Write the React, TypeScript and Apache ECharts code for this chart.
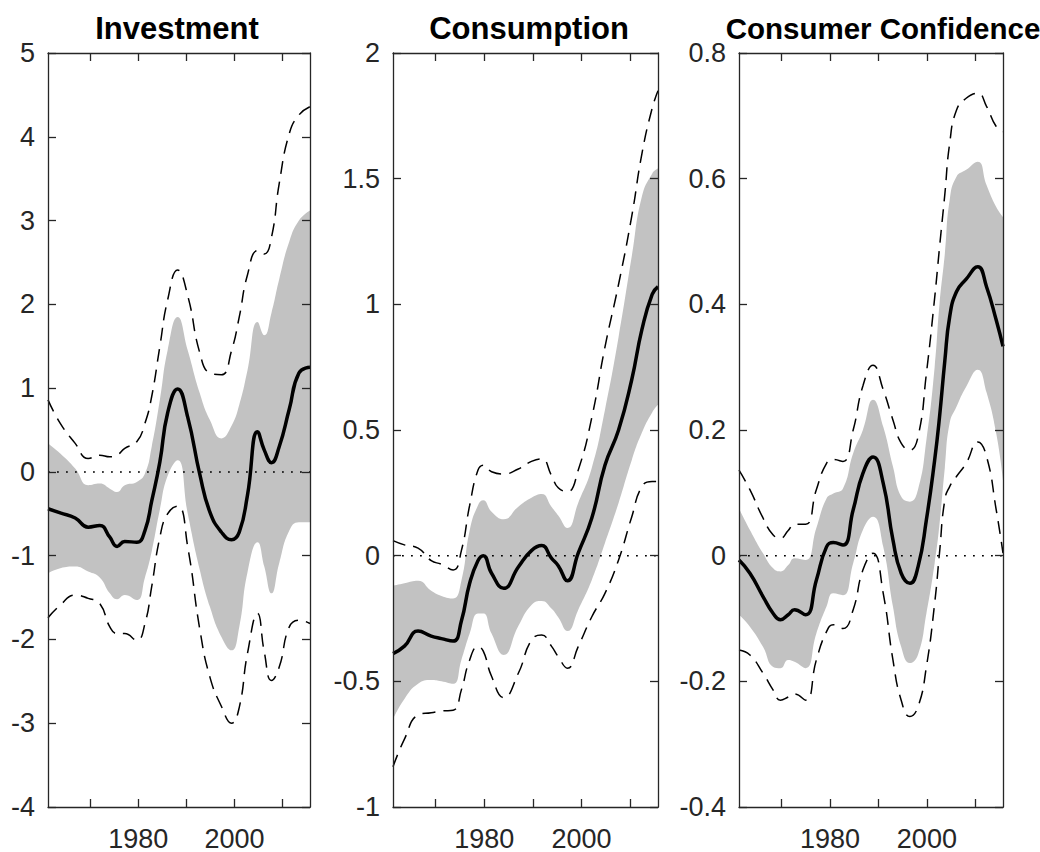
import { useEffect, useRef } from "react";
import * as echarts from "echarts";

// ---------- axes ----------
const X_MIN = 1961.25;
const X_MAX = 2015.7;
const X_TICKS = [1970, 1980, 1990, 2000, 2010];
const X_LABELS = [1980, 2000];

const TITLES = ["Investment", "Consumption", "Consumer Confidence"];
const Y_MIN = [-4, -1, -0.4];
const Y_MAX = [5, 2, 0.8];
const Y_STEP = [1, 0.5, 0.2];

// ---------- Investment ----------
const invYears = [1961.25, 1963.8, 1966.9, 1969.6, 1972.0, 1974.1, 1975.6, 1977.2, 1979.7, 1981.4, 1982.8, 1984.5, 1986.1, 1988.2, 1990.3, 1992.8, 1994.9, 1997.3, 1999.4, 2001.0, 2002.7, 2004.8, 2006.2, 2007.7, 2009.3, 2011.4, 2013.4, 2015.7];
const invMean = [-0.44, -0.49, -0.55, -0.66, -0.64, -0.78, -0.89, -0.83, -0.84, -0.70, -0.35, 0.12, 0.70, 0.99, 0.65, -0.03, -0.48, -0.72, -0.81, -0.72, -0.28, 0.48, 0.26, 0.11, 0.30, 0.75, 1.18, 1.25];
const invBandHi = [0.34, 0.22, 0.04, -0.16, -0.14, -0.20, -0.24, -0.16, -0.12, -0.02, 0.30, 0.86, 1.45, 1.85, 1.45, 0.94, 0.62, 0.40, 0.55, 0.80, 1.21, 1.79, 1.63, 1.90, 2.30, 2.75, 3.00, 3.12];
const invBandLo = [-1.21, -1.15, -1.13, -1.19, -1.26, -1.45, -1.52, -1.47, -1.53, -1.26, -0.95, -0.45, -0.05, 0.14, -0.50, -1.17, -1.61, -1.97, -2.13, -1.85, -1.20, -0.84, -1.13, -1.45, -1.09, -0.70, -0.60, -0.60];
const invDashHi = [0.86, 0.58, 0.34, 0.16, 0.20, 0.18, 0.20, 0.28, 0.36, 0.58, 0.90, 1.50, 2.05, 2.41, 2.10, 1.42, 1.18, 1.16, 1.45, 1.85, 2.35, 2.64, 2.60, 2.80, 3.44, 4.04, 4.26, 4.36];
const invDashLo = [-1.74, -1.59, -1.47, -1.51, -1.57, -1.85, -1.93, -1.93, -2.01, -1.81, -1.37, -0.78, -0.50, -0.41, -0.90, -1.88, -2.45, -2.80, -3.00, -2.81, -2.17, -1.69, -2.15, -2.49, -2.33, -1.85, -1.77, -1.81];

// ---------- Consumption ----------
const conYears = [1961.25, 1963.6, 1966.4, 1969.1, 1971.2, 1973.6, 1975.3, 1977.0, 1978.7, 1979.8, 1981.5, 1984.0, 1987.0, 1989.7, 1991.8, 1993.8, 1995.2, 1997.1, 1999.3, 2002.1, 2004.8, 2007.6, 2010.3, 2012.4, 2014.5, 2015.7];
const conMean = [-0.39, -0.36, -0.30, -0.32, -0.33, -0.34, -0.26, -0.11, -0.02, 0.0, -0.07, -0.13, -0.045, 0.02, 0.04, -0.01, -0.04, -0.10, 0.01, 0.15, 0.36, 0.50, 0.70, 0.90, 1.04, 1.07];
const conBandHi = [-0.12, -0.11, -0.10, -0.14, -0.16, -0.17, -0.10, 0.10, 0.20, 0.22, 0.175, 0.145, 0.195, 0.23, 0.245, 0.195, 0.16, 0.11, 0.21, 0.35, 0.58, 0.87, 1.19, 1.43, 1.52, 1.54];
const conBandLo = [-0.65, -0.57, -0.51, -0.495, -0.50, -0.51, -0.415, -0.31, -0.23, -0.23, -0.31, -0.395, -0.28, -0.196, -0.18, -0.21, -0.245, -0.30, -0.216, -0.097, 0.05, 0.21, 0.38, 0.49, 0.57, 0.60];
const conDashHi = [0.06, 0.043, 0.03, -0.02, -0.034, -0.057, 0.02, 0.20, 0.34, 0.36, 0.334, 0.325, 0.345, 0.375, 0.385, 0.32, 0.27, 0.255, 0.34, 0.55, 0.83, 1.08, 1.35, 1.60, 1.78, 1.85];
const conDashLo = [-0.84, -0.73, -0.634, -0.625, -0.618, -0.615, -0.534, -0.415, -0.362, -0.38, -0.48, -0.565, -0.468, -0.336, -0.316, -0.36, -0.402, -0.448, -0.362, -0.243, -0.15, -0.017, 0.154, 0.275, 0.295, 0.295];

// ---------- Consumer Confidence ----------
const ccYears = [1961.25, 1963.5, 1966.2, 1968.3, 1969.8, 1971.4, 1972.7, 1975.0, 1977.2, 1979.3, 1980.7, 1982.7, 1984.8, 1986.8, 1988.9, 1991.0, 1993.0, 1994.7, 1996.5, 1998.2, 1999.9, 2001.6, 2002.6, 2003.7, 2004.7, 2006.1, 2008.1, 2010.5, 2012.3, 2014.3, 2015.7];
const ccMean = [-0.007, -0.028, -0.065, -0.092, -0.102, -0.094, -0.086, -0.094, -0.039, 0.014, 0.021, 0.017, 0.073, 0.131, 0.157, 0.115, 0.025, -0.028, -0.044, -0.017, 0.057, 0.152, 0.22, 0.31, 0.38, 0.42, 0.44, 0.46, 0.428, 0.375, 0.333];
const ccBandHi = [0.075, 0.041, 0.004, -0.02, -0.025, -0.015, -0.004, -0.007, 0.044, 0.091, 0.099, 0.107, 0.163, 0.20, 0.248, 0.205, 0.142, 0.094, 0.086, 0.106, 0.184, 0.30, 0.40, 0.48, 0.566, 0.603, 0.614, 0.627, 0.59, 0.555, 0.539];
const ccBandLo = [-0.094, -0.113, -0.145, -0.177, -0.179, -0.166, -0.169, -0.179, -0.124, -0.081, -0.06, -0.063, -0.012, 0.041, 0.062, 0.014, -0.081, -0.145, -0.171, -0.157, -0.092, -0.012, 0.05, 0.14, 0.211, 0.237, 0.269, 0.296, 0.26, 0.195, 0.12];
const ccDashHi = [0.136, 0.105, 0.06, 0.033, 0.028, 0.04, 0.05, 0.05, 0.105, 0.147, 0.153, 0.15, 0.20, 0.27, 0.303, 0.264, 0.216, 0.179, 0.168, 0.19, 0.29, 0.41, 0.49, 0.575, 0.656, 0.709, 0.728, 0.736, 0.715, 0.683, 0.675];
const ccDashLo = [-0.15, -0.158, -0.187, -0.214, -0.23, -0.225, -0.22, -0.23, -0.166, -0.121, -0.11, -0.116, -0.086, -0.023, 0.004, -0.06, -0.166, -0.23, -0.256, -0.24, -0.177, -0.076, 0.004, 0.089, 0.11, 0.126, 0.147, 0.181, 0.158, 0.073, 0.004];

const PANELS = [
  { years: invYears, mean: invMean, hi: invBandHi, lo: invBandLo, dHi: invDashHi, dLo: invDashLo },
  { years: conYears, mean: conMean, hi: conBandHi, lo: conBandLo, dHi: conDashHi, dLo: conDashLo },
  { years: ccYears, mean: ccMean, hi: ccBandHi, lo: ccBandLo, dHi: ccDashHi, dLo: ccDashLo },
];

// ---------- layout ----------
const GRIDS = [
  { left: 48, top: 53, width: 262, height: 754 },
  { left: 393, top: 53, width: 265, height: 754 },
  { left: 739, top: 53, width: 264, height: 754 },
];
const TITLE_X = [177, 529, 883];
const TITLE_SIZE = [31, 31, 29.5];
const FONT = '"Liberation Sans", Arial, Helvetica, sans-serif';
const AXIS_COLOR = "#262626";
const BAND_COLOR = "#c2c2c2";

function buildOption() {
  const grid: any[] = [];
  const xAxis: any[] = [];
  const yAxis: any[] = [];
  const series: any[] = [];
  const graphic: any[] = [];

  const axisLine = { show: true, onZero: false, lineStyle: { color: AXIS_COLOR, width: 1.3 } };
  const tick = { show: true, inside: true, length: 8, lineStyle: { color: AXIS_COLOR, width: 1.3 } };
  const labelStyle = { fontFamily: FONT, fontSize: 27, color: AXIS_COLOR };

  PANELS.forEach((p, i) => {
    grid.push({ ...GRIDS[i], containLabel: false });
    xAxis.push({
      type: "value", gridIndex: i, position: "bottom", min: X_MIN, max: X_MAX, z: 20,
      axisLine, splitLine: { show: false },
      axisTick: { ...tick, customValues: X_TICKS },
      axisLabel: { ...labelStyle, customValues: X_LABELS, margin: 18, formatter: (v: number) => String(v) },
    });
    xAxis.push({
      type: "value", gridIndex: i, position: "top", min: X_MIN, max: X_MAX, z: 20,
      axisLine, splitLine: { show: false },
      axisTick: { ...tick, customValues: X_TICKS },
      axisLabel: { show: false },
    });
    yAxis.push({
      type: "value", gridIndex: i, position: "left", min: Y_MIN[i], max: Y_MAX[i], interval: Y_STEP[i], z: 20,
      axisLine, splitLine: { show: false }, axisTick: tick,
      axisLabel: { ...labelStyle, margin: 13 },
    });
    yAxis.push({
      type: "value", gridIndex: i, position: "right", min: Y_MIN[i], max: Y_MAX[i], interval: Y_STEP[i], z: 20,
      axisLine, splitLine: { show: false }, axisTick: tick,
      axisLabel: { show: false },
    });

    const common = { xAxisIndex: i * 2, yAxisIndex: i * 2, symbol: "none", silent: true, smooth: 0.5, animation: false };

    // band: grey area under the upper edge, then a white area under the lower edge
    series.push({
      ...common, type: "line", name: `bandHi${i}`,
      data: p.years.map((x, k) => [x, p.hi[k]]),
      lineStyle: { width: 0, opacity: 0 }, areaStyle: { color: BAND_COLOR, opacity: 1, origin: "start" }, z: 1,
    });
    series.push({
      ...common, type: "line", name: `bandLo${i}`,
      data: p.years.map((x, k) => [x, p.lo[k]]),
      lineStyle: { width: 0, opacity: 0 }, areaStyle: { color: "#ffffff", opacity: 1, origin: "start" }, z: 2,
    });
    series.push({
      ...common, type: "line", name: `zero${i}`, smooth: false,
      data: [[X_MIN, 0], [X_MAX, 0]],
      lineStyle: { color: "#000", width: 1.5, type: [1.8, 7.2] }, z: 3,
    });
    series.push({
      ...common, type: "line", name: `dashHi${i}`,
      data: p.years.map((x, k) => [x, p.dHi[k]]),
      lineStyle: { color: "#000", width: 1.5, type: [13, 8] }, z: 4,
    });
    series.push({
      ...common, type: "line", name: `dashLo${i}`,
      data: p.years.map((x, k) => [x, p.dLo[k]]),
      lineStyle: { color: "#000", width: 1.5, type: [13, 8] }, z: 4,
    });
    series.push({
      ...common, type: "line", name: `mean${i}`,
      data: p.years.map((x, k) => [x, p.mean[k]]),
      lineStyle: { color: "#000", width: 3.5 }, z: 5,
    });

    graphic.push({
      type: "text", x: TITLE_X[i], y: 28, silent: true,
      style: {
        text: TITLES[i], fill: "#000", fontFamily: FONT, fontWeight: "bold", fontSize: TITLE_SIZE[i],
        align: "center", verticalAlign: "middle",
      },
    });
  });

  return { animation: false, backgroundColor: "#ffffff", grid, xAxis, yAxis, series, graphic };
}

export default function App() {
  const ref = useRef<HTMLDivElement>(null);
  useEffect(() => {
    document.body.style.margin = "0";
    if (!ref.current) return;
    const chart = echarts.init(ref.current, undefined, { renderer: "svg" });
    chart.setOption(buildOption() as any);
    return () => chart.dispose();
  }, []);
  return <div ref={ref} style={{ width: 1040, height: 852 }} />;
}
